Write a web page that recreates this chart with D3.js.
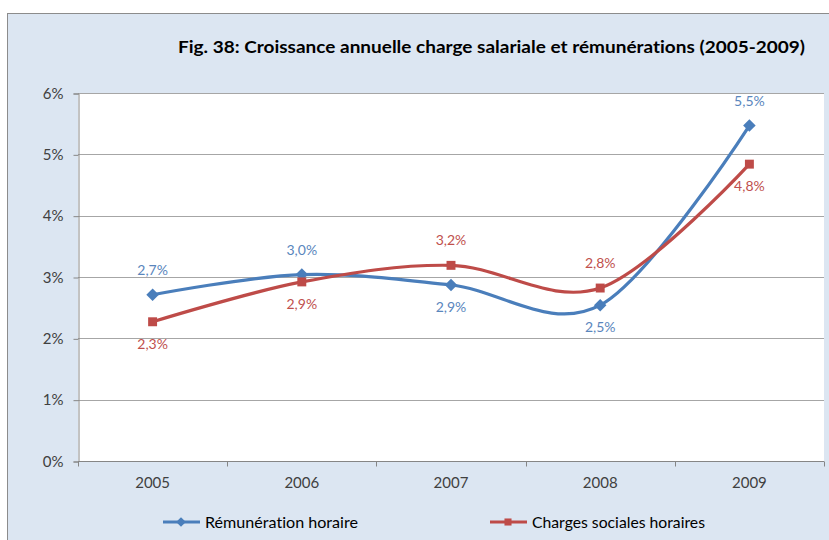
<!DOCTYPE html>
<html>
<head>
<meta charset="utf-8">
<script src="https://cdn.jsdelivr.net/npm/d3@7"></script>
<style>
  html, body { margin: 0; padding: 0; background: #ffffff; }
  svg { display: block; font-family: Lato, "Noto Sans", sans-serif; font-variant-ligatures: none; }
</style>
</head>
<body>
<svg id="chart" width="829" height="540"></svg>
<script>
// Annual growth of hourly pay and hourly social charges, 2005-2009
const years = ["2005", "2006", "2007", "2008", "2009"];
const remuneration = [2.71, 3.04, 2.87, 2.54, 5.47];
const charges = [2.27, 2.92, 3.19, 2.82, 4.84];
const yTicks = [0, 1, 2, 3, 4, 5, 6];
const seriesNames = ["Rémunération horaire", "Charges sociales horaires"];
// label placement: true = above the point
const remLabelAbove = [true, true, false, false, true];
const chgLabelAbove = [false, false, true, true, false];

const BLUE = "#4a7ebb";
const RED = "#be4b48";
const BLUE_TXT = "#5a86bd";
const RED_TXT = "#c0504d";

const svg = d3.select("#chart");

// outer chart panel
svg.append("rect")
  .attr("x", 7.5).attr("y", 13.5)
  .attr("width", 840).attr("height", 540)
  .attr("fill", "#dce6f2")
  .attr("stroke", "#8c8c8c").attr("stroke-width", 1);

svg.append("text")
  .attr("x", 178).attr("y", 53)
  .attr("textLength", 627).attr("lengthAdjust", "spacingAndGlyphs")
  .attr("font-size", 17).attr("font-weight", "bold").attr("fill", "#000")
  .text("Fig. 38: Croissance annuelle charge salariale  et rémunérations (2005-2009)");

const plot = { left: 78, right: 824, top: 93, bottom: 461 };

const x = d3.scaleBand().domain(years).range([plot.left, plot.right]);
const y = d3.scaleLinear().domain([0, 6]).range([plot.bottom, plot.top]);

// plot area
svg.append("rect")
  .attr("x", plot.left).attr("y", plot.top)
  .attr("width", plot.right - plot.left).attr("height", plot.bottom - plot.top)
  .attr("fill", "#ffffff");

// horizontal gridlines
svg.append("g").selectAll("line")
  .data(yTicks.filter(d => d > 0))
  .join("line")
  .attr("x1", plot.left).attr("x2", plot.right)
  .attr("y1", d => Math.round(y(d)) + 0.5).attr("y2", d => Math.round(y(d)) + 0.5)
  .attr("stroke", "#a6a6a6").attr("stroke-width", 1);

// y axis
const yAxis = svg.append("g")
  .attr("transform", `translate(${plot.left + 0.5},0.5)`)
  .call(d3.axisLeft(y).tickValues(yTicks).tickSize(5).tickPadding(10)
    .tickFormat(d => d + "%"));
yAxis.select(".domain").attr("stroke", "#868686");
yAxis.selectAll(".tick line").attr("stroke", "#868686");
yAxis.selectAll(".tick text")
  .attr("font-size", 15).attr("fill", "#404040")
  .attr("font-family", "Lato, 'Noto Sans', sans-serif");

// x axis with ticks at band boundaries
const xAxisG = svg.append("g").attr("transform", `translate(0,${Math.round(y(0)) + 0.5})`);
xAxisG.append("line")
  .attr("x1", plot.left).attr("x2", plot.right)
  .attr("stroke", "#868686");
const bounds = years.map(d => x(d)).concat([x(years[years.length - 1]) + x.bandwidth()]);
xAxisG.selectAll(".bt").data(bounds).join("line")
  .attr("class", "bt")
  .attr("x1", d => Math.round(d) + 0.5).attr("x2", d => Math.round(d) + 0.5)
  .attr("y1", 0).attr("y2", 5)
  .attr("stroke", "#868686");
xAxisG.selectAll(".yl").data(years).join("text")
  .attr("class", "yl")
  .attr("x", d => x(d) + x.bandwidth() / 2)
  .attr("y", 26)
  .attr("text-anchor", "middle")
  .attr("font-size", 15).attr("fill", "#404040")
  .text(d => d);

const cx = d => x(d) + x.bandwidth() / 2;
const line = d3.line()
  .x((d, i) => cx(years[i]))
  .y(d => y(d))
  .curve(d3.curveCardinal.tension(0));

const fmt = v => d3.format(".1f")(v).replace(".", ",") + "%";

function drawSeries(values, color, txtColor, marker, above) {
  const g = svg.append("g");
  g.append("path")
    .attr("d", line(values))
    .attr("fill", "none")
    .attr("stroke", color)
    .attr("stroke-width", 3.2)
    .attr("stroke-linejoin", "round");
  const sym = marker === "diamond"
    ? d3.symbol().type(d3.symbolDiamond2).size(100)
    : d3.symbol().type(d3.symbolSquare).size(80);
  g.selectAll("path.m").data(values).join("path")
    .attr("class", "m")
    .attr("transform", (d, i) => `translate(${cx(years[i])},${y(d)})`)
    .attr("d", sym)
    .attr("fill", color);
  g.selectAll("text").data(values).join("text")
    .attr("x", (d, i) => cx(years[i]))
    .attr("y", (d, i) => y(d) + (above[i] ? -20 : 27))
    .attr("text-anchor", "middle")
    .attr("font-size", 14)
    .attr("fill", txtColor)
    .text(d => fmt(d));
}

drawSeries(remuneration, BLUE, BLUE_TXT, "diamond", remLabelAbove);
drawSeries(charges, RED, RED_TXT, "square", chgLabelAbove);

// legend
const legendItems = [
  { name: seriesNames[0], color: BLUE, marker: "diamond", x: 163, w: 153 },
  { name: seriesNames[1], color: RED, marker: "square", x: 490, w: 173 }
];
const lg = svg.append("g").attr("transform", "translate(0,522)");
legendItems.forEach(it => {
  lg.append("line")
    .attr("x1", it.x).attr("x2", it.x + 37)
    .attr("stroke", it.color).attr("stroke-width", 3.2);
  lg.append("path")
    .attr("transform", `translate(${it.x + 18},0)`)
    .attr("d", it.marker === "diamond"
      ? d3.symbol().type(d3.symbolDiamond2).size(60)
      : d3.symbol().type(d3.symbolSquare).size(50))
    .attr("fill", it.color);
  lg.append("text")
    .attr("x", it.x + 42).attr("y", 5.5)
    .attr("font-size", 15).attr("fill", "#000")
    .attr("textLength", it.w).attr("lengthAdjust", "spacingAndGlyphs")
    .text(it.name);
});
</script>
</body>
</html>
